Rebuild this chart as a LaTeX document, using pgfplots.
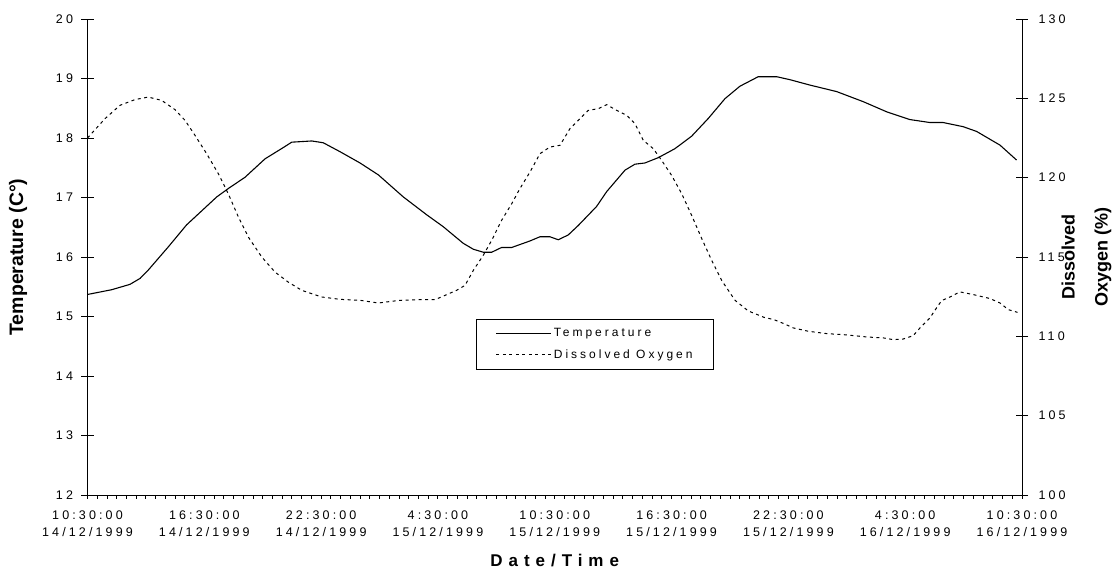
\documentclass[border=0pt]{standalone}
\usepackage{fontspec}
\setmainfont{Liberation Sans}
\newfontfamily\spaced[LetterSpace=25]{Liberation Sans}
\newfontfamily\wide[LetterSpace=35]{Liberation Sans}
\usepackage{pgfplots}
\pgfplotsset{compat=1.18}
\pgfplotstableread{
h T
0 15.37
1.24 15.45
2.18 15.54
2.70 15.64
3.12 15.78
4.15 16.17
5.09 16.54
6.64 17.01
7.23 17.15
8.09 17.34
9.12 17.65
10.06 17.84
10.49 17.93
11.52 17.95
12.11 17.92
12.97 17.77
14.0 17.58
14.94 17.38
16.22 17.01
17.42 16.71
18.27 16.51
19.3 16.23
19.82 16.13
20.33 16.08
20.76 16.08
21.27 16.16
21.79 16.16
22.73 16.27
23.24 16.34
23.75 16.34
24.18 16.29
24.69 16.37
25.21 16.53
26.15 16.85
26.67 17.10
27.61 17.46
28.12 17.56
28.63 17.58
29.32 17.67
30.17 17.82
31.03 18.03
31.89 18.33
32.74 18.66
33.51 18.87
34.45 19.03
35.4 19.03
36.08 18.98
37.1 18.89
38.48 18.78
39.85 18.61
41.05 18.44
42.24 18.31
43.27 18.26
43.95 18.26
44.98 18.19
45.67 18.11
46.87 17.88
47.72 17.63
}\temptable
\pgfplotstableread{
h DO
0 122.5
0.9 123.72
1.67 124.56
2.44 124.92
3.12 125.08
3.81 124.87
4.49 124.29
5.01 123.61
5.52 122.67
6.12 121.51
6.72 120.25
7.23 118.99
7.75 117.52
8.26 116.26
8.95 115.0
9.63 114.05
10.31 113.42
11.0 112.9
12.03 112.48
12.97 112.33
14.0 112.27
14.94 112.1
16.05 112.27
17.08 112.31
17.85 112.31
18.36 112.58
18.96 112.9
19.39 113.21
19.82 114.16
20.33 115.11
20.76 116.05
21.27 117.31
21.79 118.36
22.21 119.31
22.73 120.36
23.24 121.51
23.75 121.93
24.27 122.04
24.78 123.09
25.3 123.72
25.72 124.24
26.24 124.35
26.67 124.6
27.18 124.24
27.7 123.93
28.12 123.4
28.55 122.35
29.06 121.83
29.49 121.09
30.0 120.15
30.52 118.99
31.03 117.63
31.55 116.16
32.06 114.79
32.57 113.53
33.26 112.27
33.94 111.6
34.74 111.2
35.26 111.05
35.77 110.8
36.25 110.53
37.02 110.32
37.97 110.17
38.99 110.09
40.02 109.96
40.88 109.9
41.39 109.79
41.9 109.83
42.41 110.04
42.76 110.53
43.27 111.16
43.61 111.79
43.87 112.25
44.3 112.48
44.81 112.8
45.5 112.63
46.36 112.38
46.87 112.1
47.3 111.68
47.77 111.51
}\dotable
\begin{document}
\begin{tikzpicture}
\useasboundingbox (0,0) rectangle (1112pt,569pt);
\pgfplotsset{common/.style={at={(87.5pt,74pt)}, anchor=south west,
  width=934.5pt, height=476pt, scale only axis, xmin=0, xmax=48,
  /pgf/number format/assume math mode=true,
  tick label style={font=\spaced\fontsize{12.5}{17}\selectfont},
  every tick/.style={black, line width=0.9pt},
  axis line style={black, line width=0.9pt}}}
\begin{axis}[common, ymin=12, ymax=20, ytick={12,...,20},
  axis x line=none, axis y line*=left, major tick length=12pt, tick align=center,
  ylabel={Temperature (C°)},
  ylabel style={font=\bfseries\fontsize{19.5}{23}\selectfont, at={(axis description cs:-0.0744,0.5)}, anchor=center},
  yticklabel style={xshift=-5pt}]
\addplot[black, line width=1.1pt] table[x=h, y=T] {\temptable};
\end{axis}
\begin{axis}[common, ymin=100, ymax=130, ytick={100,105,...,130},
  axis x line=none, axis y line*=right, major tick length=12pt, tick align=center,
  ylabel={Dissolved\\[12pt]Oxygen (\%)},
  ylabel style={align=center, font=\bfseries\fontsize{18}{21}\selectfont, at={(axis description cs:1.069,0.5)}, anchor=center},
  yticklabel style={xshift=7pt},
  legend style={font=\spaced\fontsize{12}{14}\selectfont, at={(axis description cs:0.5433,0.317)}, anchor=center, draw=black, line width=0.8pt, inner xsep=19pt, inner ysep=7pt, row sep=8pt},
  legend cell align=left,
  legend image code/.code={\draw[#1] (0pt,0pt) -- (55pt,0pt);}]
\addlegendimage{black, line width=1pt}
\addlegendentry{Temperature}
\addplot[black, line width=1pt, dash pattern=on 3pt off 3.5pt] table[x=h, y=DO] {\dotable};
\addlegendentry{Dissolved Oxygen}
\end{axis}
\begin{axis}[common, ymin=0, ymax=1, axis y line=none, axis x line*=bottom,
  xtick={0,6,...,48}, minor x tick num=11, major tick length=4pt, minor tick length=4pt, tick align=outside,
  xticklabels={{10:30:00\\14/12/1999},{16:30:00\\14/12/1999},{22:30:00\\14/12/1999},{4:30:00\\15/12/1999},{10:30:00\\15/12/1999},{16:30:00\\15/12/1999},{22:30:00\\15/12/1999},{4:30:00\\16/12/1999},{10:30:00\\16/12/1999}},
  xticklabel style={align=center, yshift=-8pt},
  xlabel={Date/Time},
  xlabel style={font=\wide\bfseries\fontsize{17}{20}\selectfont, at={(axis description cs:0.5,-0.1376)}, anchor=center}]
\end{axis}
\end{tikzpicture}
\end{document}
